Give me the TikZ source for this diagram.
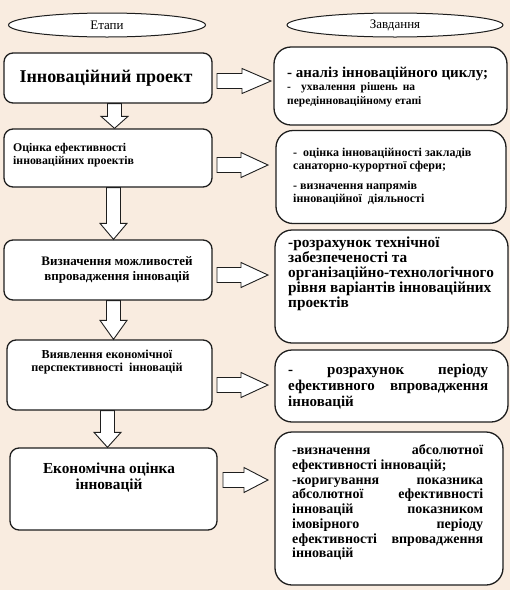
\documentclass[tikz,border=0pt]{standalone}
\usepackage{fontspec}
\setmainfont{Liberation Serif}
\usetikzlibrary{shapes.geometric,calc}
\definecolor{bg}{RGB}{249,236,224}
\definecolor{ln}{RGB}{30,30,30}
\tikzset{
 lbox/.style={draw=ln, line width=1.3pt, fill=white, rounded corners=9pt, inner sep=0pt},
 rbox/.style={draw=ln, line width=1.3pt, fill=white, rounded corners=17pt, inner sep=0pt},
 oval/.style={ellipse, draw=ln, line width=1pt, fill=white, inner sep=0pt},
 blockarrow/.style={draw=ln, line width=0.9pt, fill=white, line join=miter},
 txt/.style={inner sep=0pt, font=\bfseries},
}
\newcommand\rblock[3]{%
 \draw[blockarrow] let \p1=(#1), \p2=(#2) in
 (\x1,\y1+7.5pt) -- (\x2-#3,\y1+7.5pt) -- (\x2-#3,\y1+12.5pt) -- (\x2,\y1)
 -- (\x2-#3,\y1-12.5pt) -- (\x2-#3,\y1-7.5pt) -- (\x1,\y1-7.5pt) -- cycle;}
\newcommand\dblock[3]{%
 \draw[blockarrow] let \p1=(#1), \p2=(#2) in
 (\x1-7pt,\y1) -- (\x1-7pt,\y2+#3) -- (\x1-13.5pt,\y2+#3) -- (\x1,\y2)
 -- (\x1+13.5pt,\y2+#3) -- (\x1+7pt,\y2+#3) -- (\x1+7pt,\y1) -- cycle;}
\begin{document}
\begin{tikzpicture}[x=1pt,y=-1pt]
\fill[bg] (0,0) rectangle (510,590);
\useasboundingbox (0,0) rectangle (510,590);

% header ovals
\node[oval, minimum width=197pt, minimum height=24pt, font=\fontsize{13}{13}\selectfont] (h1) at (107,25) {Етапи};
\node[oval, minimum width=216pt, minimum height=24pt, font=\fontsize{13}{13}\selectfont] (h2) at (395,25) {Завдання};

% left boxes
\node[lbox, minimum width=208pt, minimum height=50pt] (b1) at (108,78) {};
\node[lbox, minimum width=208pt, minimum height=58pt] (b2) at (108,158) {};
\node[lbox, minimum width=208pt, minimum height=60pt] (b3) at (108,270) {};
\node[lbox, minimum width=205pt, minimum height=70pt] (b4) at (109.5,375) {};
\node[lbox, minimum width=207pt, minimum height=82pt] (b5) at (113.5,489) {};

\node[txt, font=\bfseries\fontsize{18}{18}\selectfont] (t1) at (106,78) {Інноваційний проект};
\node[txt, anchor=west, align=left, font=\bfseries\fontsize{11.8}{13.5}\selectfont] (t2) at (13,155) {Оцінка ефективності\\інноваційних проектів};
\node[txt, align=center, font=\bfseries\fontsize{13}{15.5}\selectfont] (t3) at (117,270) {Визначення можливостей\\впровадження інновацій};
\node[txt, align=center, font=\bfseries\fontsize{12.2}{12.5}\selectfont] (t4) at (107,362) {Виявлення економічної\\перспективності\ \ інновацій};
\node[txt, align=center, font=\bfseries\fontsize{15.3}{16}\selectfont] (t5) at (109,478) {Економічна оцінка\\інновацій};

% right boxes
\node[rbox, minimum width=233pt, minimum height=78pt] (r1) at (390.5,86) {};
\node[rbox, minimum width=230pt, minimum height=93pt] (r2) at (391,177) {};
\node[rbox, minimum width=233pt, minimum height=113pt] (r3) at (391.5,286.5) {};
\node[rbox, minimum width=233pt, minimum height=72pt] (r4) at (391.5,386) {};
\node[rbox, minimum width=228pt, minimum height=153pt] (r5) at (389,508.5) {};

\node[txt, anchor=west, align=left, font=\bfseries\fontsize{11.5}{13.5}\selectfont] (s1) at (287,87)
 {{\fontsize{15}{15}\selectfont - аналіз інноваційного циклу;}\\\makebox[128pt][s]{- \ ухвалення рішень на}\\передінноваційному етапі};
\node[txt, anchor=west, align=left, font=\bfseries\fontsize{12}{13}\selectfont] (s2) at (293,176)
 {- \ оцінка інноваційності закладів\\санаторно-курортної сфери;\\[7pt]- визначення напрямів\\інноваційної\ \ діяльності};
\node[txt, anchor=west, align=left, font=\bfseries\fontsize{15.3}{15}\selectfont] (s3) at (288,274)
 {-розрахунок технічної\\забезпеченості та\\організаційно-технологічного\\рівня варіантів інноваційних\\проектів};
\node[txt, anchor=west, align=left, font=\bfseries\fontsize{15}{16}\selectfont] (s4) at (288,387)
 {\makebox[200pt][s]{- розрахунок періоду}\\\makebox[200pt][s]{ефективного впровадження}\\інновацій};
\node[txt, anchor=west, align=left, font=\bfseries\fontsize{14}{14.7}\selectfont] (s5) at (292,502.5)
 {\makebox[191pt][s]{-визначення абсолютної}\\ефективності інновацій;\\\makebox[191pt][s]{-коригування показника}\\\makebox[191pt][s]{абсолютної ефективності}\\\makebox[191pt][s]{інновацій показником}\\\makebox[191pt][s]{імовірного періоду}\\\makebox[191pt][s]{ефективності впровадження}\\інновацій};

% arrow end points
\coordinate (a1s) at (217,81);  \coordinate (a1e) at (271,81);
\coordinate (a2s) at (217,165); \coordinate (a2e) at (268,165);
\coordinate (a3s) at (217,275); \coordinate (a3e) at (268,275);
\coordinate (a4s) at (217,385); \coordinate (a4e) at (268,385);
\coordinate (a5s) at (223,480); \coordinate (a5e) at (268,480);
\rblock{a1s}{a1e}{29pt}
\rblock{a2s}{a2e}{27pt}
\rblock{a3s}{a3e}{27pt}
\rblock{a4s}{a4e}{27pt}
\rblock{a5s}{a5e}{24pt}

\coordinate (d1x) at (114.5,0);
\coordinate (d2x) at (113.5,0);
\coordinate (d4x) at (107.5,0);
\dblock{d1x |- b1.south}{d1x |- b2.north}{12pt}
\dblock{d2x |- b2.south}{d2x |- b3.north}{16pt}
\dblock{d2x |- b3.south}{d2x |- b4.north}{19pt}
\dblock{d4x |- b4.south}{d4x |- b5.north}{15pt}
\end{tikzpicture}
\end{document}
